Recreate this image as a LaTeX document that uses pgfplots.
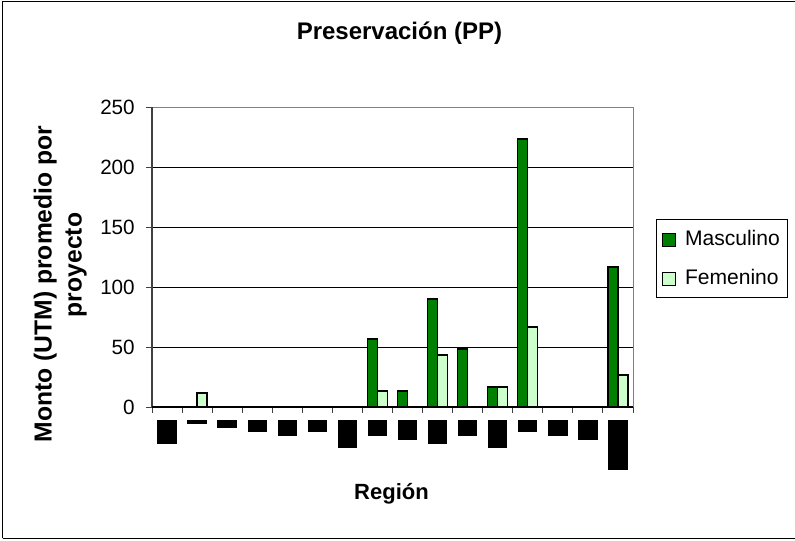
\documentclass[border=0pt]{standalone}
\usepackage{fontspec}
\setmainfont{Liberation Sans}
\usepackage{pgfplots}
\pgfplotsset{compat=1.18}
\definecolor{Masc}{RGB}{0,128,0}
\definecolor{Fem}{RGB}{204,255,204}
\definecolor{BoxGray}{RGB}{128,128,128}
\definecolor{AxisGray}{RGB}{64,64,64}

% region labels are blacked out in the source; drawn as solid blocks
\newcommand{\blk}[1]{\rule{14.5pt}{#1pt}}

\begin{document}
\begin{tikzpicture}
\begin{axis}[
    scale only axis,
    width=360.75pt, height=225pt,
    xmin=-0.5, xmax=15.5,
    ymin=0, ymax=250,
    ybar, bar width=0.333,
    axis line style={draw=none},
    tick pos=left,
    tick align=outside,
    major tick length=4.5pt,
    tick style={AxisGray, line width=0.75pt},
    ytick={0,50,...,250},
    ymajorgrids,
    grid style={black, line width=0.6pt},
    xtick={-0.5,0.5,...,15.5},
    xticklabel=\empty,
    extra x ticks={0,...,15},
    extra x tick labels={\blk{18},\blk{3},\blk{6},\blk{9},\blk{12},\blk{9},\blk{21},\blk{12},
                         \blk{15},\blk{18},\blk{12},\blk{21},\blk{9},\blk{12},\blk{15},\blk{37.5}},
    extra x tick style={major tick length=0pt,
        xticklabel style={anchor=north, inner sep=0pt, yshift=-9.2pt}},
    yticklabel style={anchor=east, inner sep=0pt, xshift=-8.25pt,
        font=\fontsize{15.5}{18}\selectfont},
    /pgf/number format/assume math mode=true,
    legend style={at={(1.0478,0.6267)}, anchor=north west, draw=black,
        line width=0.75pt, font=\fontsize{15.8}{18}\selectfont,
        inner xsep=4pt, inner ysep=6.5pt, row sep=13.5pt,
        nodes={inner sep=1.5pt}},
    legend cell align=left,
    legend image code/.code={\draw[#1, draw=black, line width=0.75pt] (0pt,-5.5pt) rectangle (9.75pt,4.25pt);
        \path (15pt,0pt);},
    every axis plot/.append style={draw=black, line width=1pt},
]
\coordinate (o) at (rel axis cs:0,0);
\addplot[fill=Masc, bar shift=-0.1667] coordinates {
    (7,56.7) (8,13.3) (9,90) (10,48.3) (11,16.7) (12,223.3) (15,116.7)
};
\addlegendentry{Masculino}
\addplot[fill=Fem, bar shift=0.1667] coordinates {
    (1,11.7) (7,13.3) (9,43.3) (11,16.7) (12,66.7) (15,26.7)
};
\addlegendentry{Femenino}
\end{axis}

\begin{scope}[shift={(o)}]
  \draw[BoxGray, line width=0.75pt] (0pt,225pt) -- (360.75pt,225pt) -- (360.75pt,0pt);
  \draw[AxisGray, line width=1.1pt] (0pt,0pt) -- (0pt,225pt);
  \draw[black, line width=1.1pt] (0pt,0pt) -- (360.75pt,0pt);
  \node[anchor=base, font=\fontsize{18}{21}\selectfont\bfseries] at (185.6pt,275.8pt) {Preservación (PP)};
  \node[anchor=base, font=\fontsize{16.5}{20}\selectfont\bfseries] at (179.6pt,-69pt) {Región};
  \node[anchor=base, rotate=90, font=\fontsize{18.5}{21}\selectfont\bfseries] at (-75.2pt,92.25pt) {Monto (UTM) promedio por};
  \node[anchor=base, rotate=90, font=\fontsize{18.5}{21}\selectfont\bfseries] at (-52.7pt,106.5pt) {proyecto};
  \draw[black, line width=1.1pt] (-112.1pt,-98.6pt) -- (-112.1pt,304.1pt) -- (482.25pt,304.1pt);
  \draw[black, line width=1.1pt] (-112.1pt,-98.6pt) -- (482.25pt,-98.6pt);
  \pgfresetboundingbox
  \useasboundingbox (-114pt,-99.75pt) rectangle (482.25pt,305.25pt);
\end{scope}
\end{tikzpicture}
\end{document}
